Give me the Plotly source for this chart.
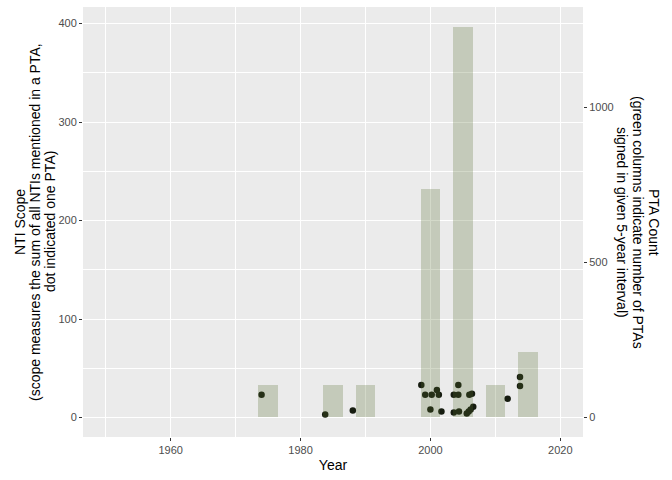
"""NTI scope per PTA with PTA counts per 5-year interval (ggplot-style look)."""

import plotly.graph_objects as go

# PTA count bars (right axis units), centred on 5-year interval
bar_years = [1975, 1985, 1990, 2000, 2005, 2010, 2015]
pta_count = [105, 105, 105, 737, 1261, 105, 211]

# NTI scope of each PTA (left axis), one dot per PTA
pta_year = [
    1974.0, 1983.8, 1988.05, 1998.6, 1999.2, 2000.2, 2000.0, 2001.0,
    2001.3, 2001.7, 2003.6, 2004.3, 2004.3, 2003.6, 2004.4, 2006.0,
    2006.4, 2005.6, 2005.9, 2006.2, 2006.6, 2011.9, 2013.8, 2013.8,
]
nti_scope = [
    23, 3, 7, 33, 23, 23, 8, 28,
    23, 6, 23, 23, 33, 5, 6, 23,
    24, 4, 6, 8, 11, 19, 41, 32,
]

left_ticks = [0, 100, 200, 300, 400]
right_ticks = [0, 500, 1000]
year_ticks = [1960, 1980, 2000, 2020]

# ratio between the right (PTA count) and left (NTI scope) axes
SEC_FACTOR = 3.177
Y_RANGE = [-19.85, 416.9]

left_title = [
    "NTI Scope",
    "(scope measures the sum of all NTIs mentioned in a PTA,",
    "dot indicated one PTA)",
]
right_title = [
    "PTA Count",
    "(green columns indicate number of PTAs",
    "signed in given 5-year interval)",
]

FONT = "Liberation Sans, Arial, sans-serif"
TICK_GREY = "#4d4d4d"

fig = go.Figure()

fig.add_trace(
    go.Bar(
        x=bar_years, y=pta_count,
        width=3,
        marker=dict(color="rgba(85,107,47,0.26)", line=dict(width=0)),
        yaxis="y2",
        showlegend=False,
    )
)

fig.add_trace(
    go.Scatter(
        x=pta_year, y=nti_scope,
        mode="markers",
        marker=dict(color="#161c10", size=6.5),
        showlegend=False,
    )
)


def axis_style():
    return dict(
        showline=False,
        zeroline=False,
        ticks="outside",
        ticklen=3,
        tickwidth=1,
        tickcolor="#333333",
        color=TICK_GREY,
        tickfont=dict(family=FONT, size=11, color=TICK_GREY),
    )


fig.update_layout(
    width=672, height=480,
    margin=dict(l=83, r=89, t=7, b=43),
    paper_bgcolor="white",
    plot_bgcolor="#ebebeb",
    bargap=0,
    font=dict(family=FONT),
    xaxis=dict(
        range=[1946.5, 2023.5],
        tickvals=year_ticks,
        gridcolor="white", gridwidth=1.1,
        minor=dict(dtick=10, tick0=1950, gridcolor="white", gridwidth=0.5, showgrid=True),
        title=dict(text="Year", font=dict(family=FONT, size=14, color="black"), standoff=4),
        **axis_style(),
    ),
    yaxis=dict(
        range=Y_RANGE,
        tickvals=left_ticks,
        gridcolor="white", gridwidth=1.1,
        minor=dict(dtick=100, tick0=50, gridcolor="white", gridwidth=0.5, showgrid=True),
        **axis_style(),
    ),
    yaxis2=dict(
        overlaying="y", side="right",
        range=[Y_RANGE[0] * SEC_FACTOR, Y_RANGE[1] * SEC_FACTOR],
        tickvals=right_ticks,
        showgrid=False,
        **axis_style(),
    ),
)

# multi-line axis titles as separate lines so the spacing is tight
for i, line in enumerate(left_title):
    fig.add_annotation(
        text=line, xref="paper", yref="paper",
        x=0, y=0.5, xanchor="center", yanchor="middle",
        xshift=-83 + 20 + 15 * i, textangle=-90, showarrow=False,
        font=dict(family=FONT, size=14, color="black"),
    )
for i, line in enumerate(right_title):
    fig.add_annotation(
        text=line, xref="paper", yref="paper",
        x=1, y=0.5, xanchor="center", yanchor="middle",
        xshift=(654 - 583) - 16 * i, textangle=90, showarrow=False,
        font=dict(family=FONT, size=14, color="black"),
    )

# drop the default page margin so the figure sits at the window origin
fig.write_html(
    "out.html",
    config={"displayModeBar": False},
    post_script="document.body.style.margin='0';",
)
